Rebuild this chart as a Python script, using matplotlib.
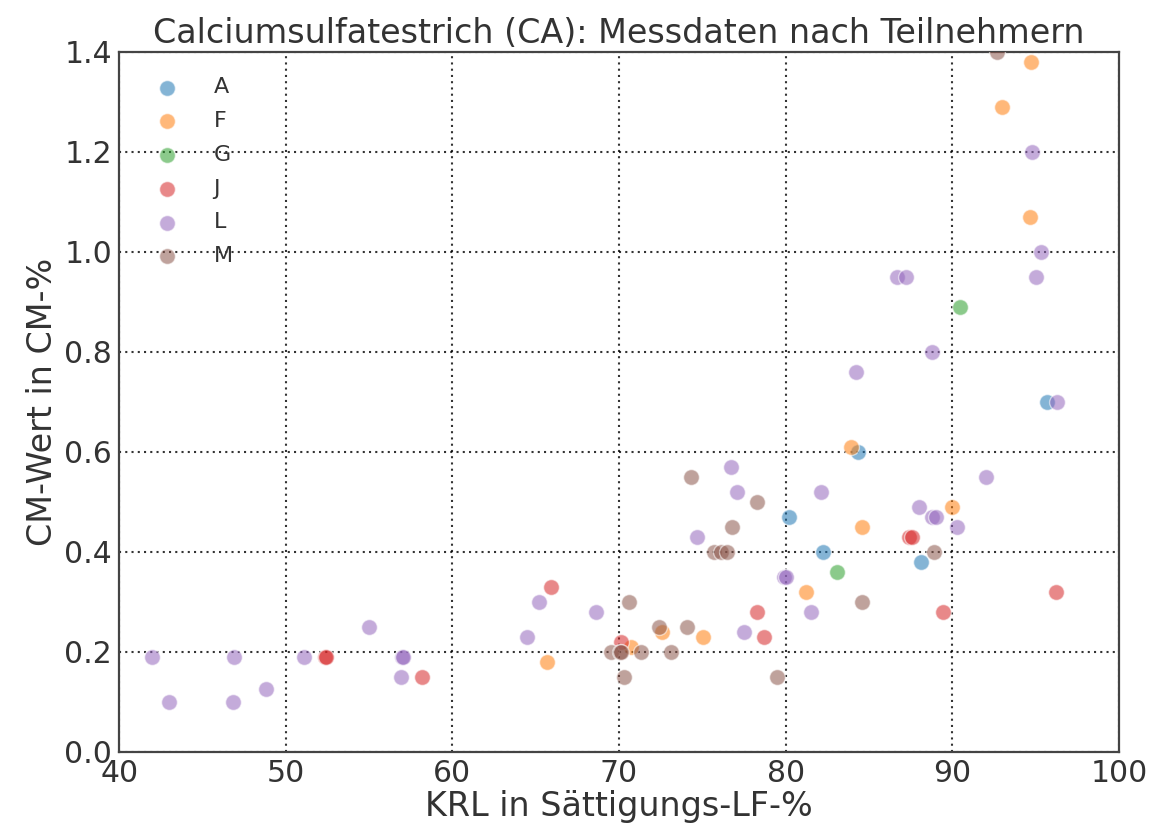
import matplotlib
matplotlib.use("Agg")
import matplotlib.pyplot as plt

# Messdaten je Teilnehmer: KRL (x) und CM-Wert (y)
a_krl = [80.2, 82.25, 88.1, 84.35, 95.7]
a_cm = [0.47, 0.40, 0.38, 0.60, 0.70]

f_krl = [65.65, 70.7, 72.6, 75.05, 81.2, 84.6, 83.9, 90.0, 94.65, 93.0, 94.75]
f_cm = [0.18, 0.21, 0.24, 0.23, 0.32, 0.45, 0.61, 0.49, 1.07, 1.29, 1.38]

g_krl = [83.07, 90.45]
g_cm = [0.36, 0.89]

j_krl = [52.35, 52.4, 58.17, 65.9, 70.1, 78.3, 78.7, 87.4, 87.6, 89.45, 96.2]
j_cm = [0.19, 0.19, 0.15, 0.33, 0.22, 0.28, 0.23, 0.43, 0.43, 0.28, 0.32]

l_krl = [41.95, 42.97, 46.9, 46.85, 48.8, 55.0, 51.1, 57.0, 57.05, 56.9, 64.5,
         65.2, 68.6, 74.7, 76.7, 77.1, 77.5, 79.9, 80.0, 81.5, 82.1, 84.2,
         86.7, 87.2, 88.0, 88.8, 89.0, 88.8, 90.3, 92.0, 94.8, 95.3, 95.0, 96.3]
l_cm = [0.19, 0.10, 0.19, 0.10, 0.125, 0.25, 0.19, 0.19, 0.19, 0.15, 0.23,
        0.30, 0.28, 0.43, 0.57, 0.52, 0.24, 0.35, 0.35, 0.28, 0.52, 0.76,
        0.95, 0.95, 0.49, 0.47, 0.47, 0.80, 0.45, 0.55, 1.20, 1.00, 0.95, 0.70]

m_krl = [69.5, 70.05, 70.15, 71.3, 73.1, 70.3, 70.6, 72.4, 74.1, 79.5,
         75.7, 76.1, 76.5, 74.3, 78.3, 76.8, 84.6, 88.9, 92.7]
m_cm = [0.20, 0.20, 0.20, 0.20, 0.20, 0.15, 0.30, 0.25, 0.25, 0.15,
        0.40, 0.40, 0.40, 0.55, 0.50, 0.45, 0.30, 0.40, 1.40]

groups = ["A", "F", "G", "J", "L", "M"]
xs = [a_krl, f_krl, g_krl, j_krl, l_krl, m_krl]
ys = [a_cm, f_cm, g_cm, j_cm, l_cm, m_cm]

plt.rcParams['font.family'] = ['DejaVu Sans']

fig = plt.figure(figsize=(11.57, 8.36), dpi=100)
ax = fig.add_axes([0.103, 0.101, 0.864, 0.837])

for name, x, y in zip(groups, xs, ys):
    ax.scatter(x, y, s=130, alpha=0.55, edgecolors='white', linewidths=1,
               label=name, zorder=3)

ax.set_xlim(40, 100)
ax.set_ylim(0.0, 1.4)
ax.set_xticks([40, 50, 60, 70, 80, 90, 100])
ax.set_yticks([0.0, 0.2, 0.4, 0.6, 0.8, 1.0, 1.2, 1.4])
ax.set_yticklabels(['0.0', '0.2', '0.4', '0.6', '0.8', '1.0', '1.2', '1.4'])
ax.grid(True, color='black', linestyle=(0, (1, 2)), linewidth=1.5, alpha=0.8, zorder=0)
ax.tick_params(axis='both', labelsize=21.5, colors='#333333', length=0, pad=5)

for sp in ax.spines.values():
    sp.set_color('#444444')
    sp.set_linewidth(1.6)

ax.set_xlabel('KRL in Sättigungs-LF-%', fontsize=24, color='#333333', labelpad=2)
ax.set_ylabel('CM-Wert in CM-%', fontsize=24, color='#333333', labelpad=4)
ax.set_title('Calciumsulfatestrich (CA): Messdaten nach Teilnehmern',
             fontsize=24, color='#333333', pad=6)

leg = ax.legend(loc='upper left', frameon=False, fontsize=16, handletextpad=1.1,
                borderaxespad=0.4, labelspacing=0.62, borderpad=0.75)
for t in leg.get_texts():
    t.set_color('#333333')

fig.savefig('out.png', dpi=100)
